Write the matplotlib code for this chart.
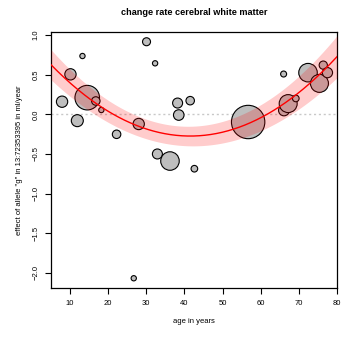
import numpy as np
import matplotlib
matplotlib.use("Agg")
import matplotlib.pyplot as plt

plt.rcParams['font.family'] = ['Liberation Sans', 'DejaVu Sans']

# ---- data ----
ages = [7.9, 10.1, 11.9, 13.25, 14.5, 16.75, 18.2, 22.2, 26.7, 28.0, 30.05,
        32.3, 32.9, 36.2, 38.2, 38.5, 41.5, 42.6, 56.7, 66.0, 66.1, 67.2,
        69.2, 72.4, 75.4, 76.4, 77.5]
effects = [0.159, 0.504, -0.08, 0.735, 0.21, 0.168, 0.054, -0.252, -2.067,
           -0.122, 0.915, 0.643, -0.5, -0.589, 0.142, -0.009, 0.172, -0.686,
           -0.097, 0.508, 0.05, 0.135, 0.2, 0.525, 0.39, 0.62, 0.525]
# relative study weights (circle area)
weights = [32, 32, 36, 7, 151, 18, 7, 18, 7, 32, 16, 7, 25, 86, 25, 28, 18,
           11, 279, 9, 30, 81, 11, 86, 81, 17, 26]

# quadratic meta-regression fit: effect = a*(age - h)^2 + k
fit_vertex_age = 41.5
fit_vertex_effect = -0.274
fit_curvature = 0.000675
# confidence band half-width read at three ages
band_ages = [5, 43, 80]
band_halfwidth = [0.19, 0.125, 0.265]

title = "change rate cerebral white matter"
xlabel = "age in years"
ylabel = 'effect of allele "g" in 13:72353395 in ml/year'
xticks = [10, 20, 30, 40, 50, 60, 70, 80]
yticks = [-2.0, -1.5, -1.0, -0.5, 0.0, 0.5, 1.0]

# ---- figure ----
fig = plt.figure(figsize=(3.52, 3.38), dpi=100)
ax = fig.add_axes([51/352, 1-287.7/338, (337-51)/352, (287.7-32.3)/338])

ax.axhline(0, color='#c8c8c8', lw=1.0, ls=(0, (1.5, 2)), zorder=1)

ax.scatter(ages, effects, s=np.array(weights) * 2.07, facecolor='#bebebe',
           edgecolor='black', linewidths=0.8, zorder=2)

xs = np.linspace(5, 80, 300)
fit = fit_curvature * (xs - fit_vertex_age) ** 2 + fit_vertex_effect
hw = np.polyval(np.polyfit(band_ages, band_halfwidth, 2), xs)
ax.fill_between(xs, fit - hw, fit + hw, color='red', alpha=0.2, lw=0, zorder=3)
ax.plot(xs, fit, color='red', lw=1.0, zorder=4)

ax.set_xlim(5, 80)
ax.set_ylim(-2.186, 1.034)
ax.set_xticks(xticks)
ax.set_yticks(yticks)
ax.set_xticklabels([str(t) for t in xticks])
ax.set_yticklabels(['\u22122.0', '\u22121.5', '\u22121.0', '\u22120.5', '0.0', '0.5', '1.0'],
                   rotation=90, va='center')
ax.tick_params(direction='out', length=4, width=0.8, labelsize=5.5, pad=4, colors='black')
ax.tick_params(axis='x', pad=5)
for s in ax.spines.values():
    s.set_linewidth(0.9)

fig.text(194/352, 1-12.3/338, title, ha='center', va='center', fontsize=6.6,
         fontweight='bold')
fig.text(194/352, 1-321.7/338, xlabel, ha='center', va='center', fontsize=5.5)
fig.text(20/352, 1-160/338, ylabel, ha='center', va='center', fontsize=5.5,
         rotation=90)

fig.savefig("out.png", dpi=100)
